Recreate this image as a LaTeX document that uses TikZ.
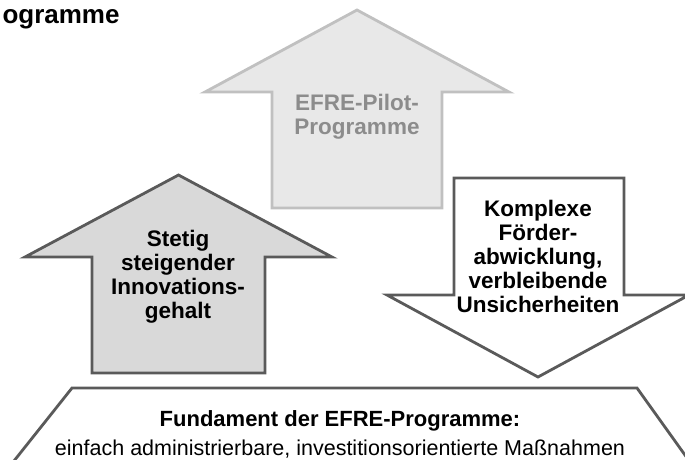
\documentclass[tikz,border=0pt]{standalone}
\usepackage{fontspec}
\setmainfont{Liberation Sans}

\definecolor{pilotfill}{HTML}{E8E8E8}
\definecolor{pilotline}{HTML}{C0C0C0}
\definecolor{pilottext}{HTML}{8C8C8C}
\definecolor{innofill}{HTML}{D9D9D9}
\definecolor{darkline}{HTML}{5A5A5A}

\tikzset{
  arrowtext/.style={font=\bfseries\fontsize{22.5}{24}\selectfont, align=center},
  basetext/.style={font=\fontsize{21.5}{29}\selectfont, align=center, inner sep=1pt}
}

\begin{document}
\begin{tikzpicture}[x=1pt,y=-1pt]
    \useasboundingbox (0,0) rectangle (685,459);
    \clip (0,0) rectangle (685,459);

    % pilot programmes (pale)
    \filldraw[fill=pilotfill, draw=pilotline, line width=2.8pt]
      (357,10) -- (509,92) -- (442,92) -- (442,208) -- (272,208) -- (272,92) -- (205,92) -- cycle;
    % innovation arrow
    \filldraw[fill=innofill, draw=darkline, line width=2.8pt]
      (178.5,175) -- (332,257) -- (265,257) -- (265,373) -- (92,373) -- (92,257) -- (25,257) -- cycle;
    % complexity arrow
    \filldraw[fill=white, draw=darkline, line width=2.8pt]
      (454,178) -- (624,178) -- (624,295) -- (689,295) -- (538,377) -- (387,295) -- (454,295) -- cycle;
    % foundation
    \filldraw[fill=white, draw=darkline, line width=2.8pt]
      (72,388) -- (637,388) -- (700,476) -- (2,476) -- cycle;

    \node[anchor=west, font=\bfseries\fontsize{26}{30}\selectfont] (title) at (-1,19) {ogramme};

    \node[arrowtext, text=pilottext] (pilot) at (357,117) {EFRE-Pilot-\\Programme};
    \node[arrowtext] (inno) at (178,277) {Stetig\\steigender\\Innovations-\\gehalt};
    \node[arrowtext] (komplex) at (538,256) {Komplexe\\ Förder-\\abwicklung,\\verbleibende\\Unsicherheiten};

    \node[basetext] (fundament) at (340,434)
      {\textbf{\fontsize{22}{29}\selectfont Fundament der EFRE-Programme:}\\einfach administrierbare, investitionsorientierte Maßnahmen};
\end{tikzpicture}
\end{document}
